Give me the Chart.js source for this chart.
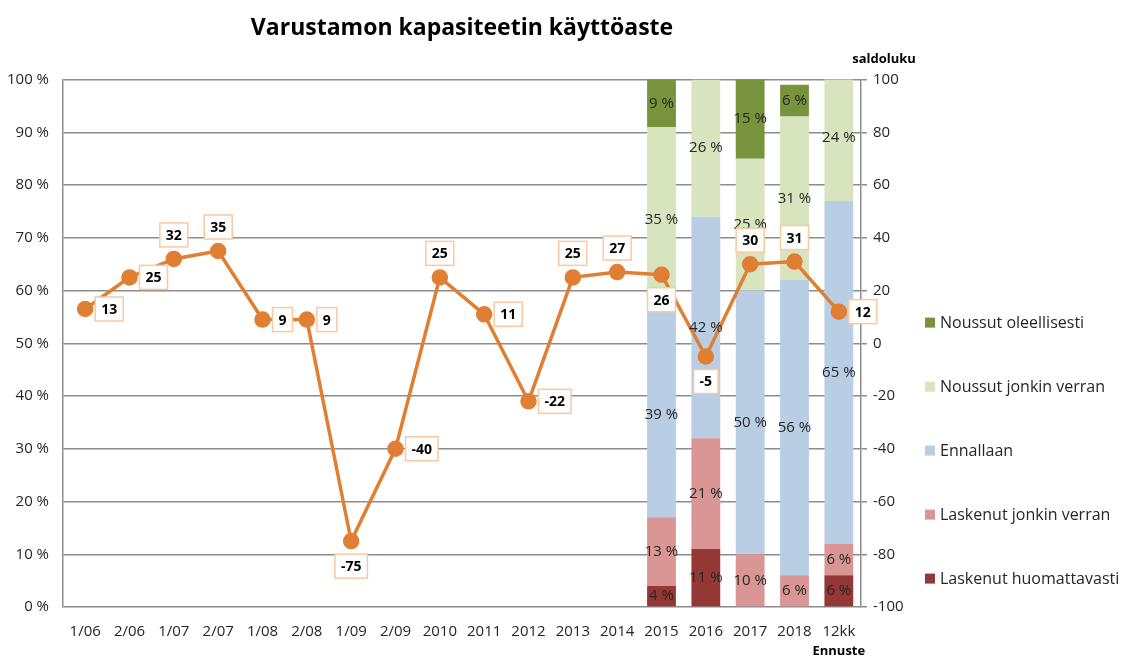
<!DOCTYPE html>
<html>
<head>
<meta charset="utf-8">
<script src="https://cdn.jsdelivr.net/npm/chart.js@4/dist/chart.umd.min.js"></script>
<style>
  html, body { margin: 0; padding: 0; background: #fff; }
  #wrap { width: 1128px; height: 657px; }
</style>
</head>
<body>
<div id="wrap"><canvas id="chart" width="1128" height="657"></canvas></div>
<script>
// ── Data ──────────────────────────────────────────────────────────
const categories = ['1/06', '2/06', '1/07', '2/07', '1/08', '2/08', '1/09', '2/09',
                    '2010', '2011', '2012', '2013', '2014', '2015', '2016', '2017', '2018', '12kk'];

// saldoluku (right axis)
const saldoluku = [13, 25, 32, 35, 9, 9, -75, -40, 25, 11, -22, 25, 27, 26, -5, 30, 31, 12];

// stacked shares (%), only from 2015 onwards
const E = null;
const laskenutHuomattavasti = [E, E, E, E, E, E, E, E, E, E, E, E, E, 4, 11, 0, 0, 6];
const laskenutJonkinVerran  = [E, E, E, E, E, E, E, E, E, E, E, E, E, 13, 21, 10, 6, 6];
const ennallaan             = [E, E, E, E, E, E, E, E, E, E, E, E, E, 39, 42, 50, 56, 65];
const noussutJonkinVerran   = [E, E, E, E, E, E, E, E, E, E, E, E, E, 35, 26, 25, 31, 24];
const noussutOleellisesti   = [E, E, E, E, E, E, E, E, E, E, E, E, E, 9, 0, 15, 6, 0];

const leftTicks  = [0, 10, 20, 30, 40, 50, 60, 70, 80, 90, 100];
const rightTicks = [-100, -80, -60, -40, -20, 0, 20, 40, 60, 80, 100];

// ── Styling ───────────────────────────────────────────────────────
const FONT = "'Open Sans', 'Noto Sans', sans-serif";
const ORANGE = '#E07F34';
const GRID = '#8c8c8c';
const TEXT = '#262626';

// where each line label sits relative to its point
const labelSides = ['r', 'r', 'u', 'u', 'r', 'r', 'd', 'r', 'u', 'r', 'r', 'u', 'u', 'd', 'd', 'u', 'u', 'r'];

function barSet(label, data, color) {
    return {
        type: 'bar',
        label,
        data,
        backgroundColor: color,
        borderWidth: 0,
        yAxisID: 'y',
        stack: 'share',
        order: 2,
        barPercentage: 0.65,
        categoryPercentage: 1.0
    };
}

// ── Labels + legend plugin ────────────────────────────────────────
const labelPlugin = {
    id: 'valueLabels',
    afterDatasetsDraw(chart) {
        const ctx = chart.ctx;
        const area = chart.chartArea;
        ctx.save();

        // bar segment labels
        chart.data.datasets.forEach((ds, di) => {
            if (ds.type !== 'bar') return;
            const meta = chart.getDatasetMeta(di);
            meta.data.forEach((bar, i) => {
                const v = ds.data[i];
                if (!v) return;
                const cy = (bar.y + bar.base) / 2;
                ctx.font = `15px ${FONT}`;
                ctx.fillStyle = TEXT;
                ctx.textAlign = 'center';
                ctx.textBaseline = 'middle';
                ctx.fillText(v + ' %', bar.x, cy);
            });
        });

        // line labels in boxes
        const li = chart.data.datasets.findIndex(d => d.type === 'line');
        const meta = chart.getDatasetMeta(li);
        ctx.font = `bold 14px ${FONT}`;
        meta.data.forEach((pt, i) => {
            const text = String(saldoluku[i]);
            const w = ctx.measureText(text).width + 12;
            const h = 24;
            let bx, by;
            const side = labelSides[i];
            if (side === 'r') { bx = pt.x + 10; by = pt.y - h / 2; }
            else if (side === 'u') { bx = pt.x - w / 2; by = pt.y - 12 - h; }
            else { bx = pt.x - w / 2; by = pt.y + 13; }
            ctx.fillStyle = '#ffffff';
            ctx.fillRect(bx, by, w, h);
            ctx.strokeStyle = '#F9C9A0';
            ctx.lineWidth = 1.5;
            ctx.strokeRect(bx, by, w, h);
            ctx.fillStyle = '#000';
            ctx.textAlign = 'center';
            ctx.textBaseline = 'middle';
            ctx.fillText(text, bx + w / 2, by + h / 2 + 1);
        });

        // axis caption and forecast note
        const x = chart.scales.x;
        ctx.font = `bold 13px ${FONT}`;
        ctx.fillStyle = '#000';
        ctx.textAlign = 'center';
        ctx.textBaseline = 'middle';
        ctx.fillText('saldoluku', area.right + 23, area.top - 20);
        ctx.fillText('Ennuste', x.getPixelForValue(categories.length - 1), area.bottom + 44);

        // legend, top item = top of stack
        const bars = chart.data.datasets.filter(d => d.type === 'bar').reverse();
        ctx.font = `16px ${FONT}`;
        ctx.textAlign = 'left';
        bars.forEach((ds, k) => {
            const cy = area.top + 243 + k * 64;
            ctx.fillStyle = ds.backgroundColor;
            ctx.fillRect(area.right + 64, cy - 5, 10, 10);
            ctx.fillStyle = TEXT;
            ctx.fillText(ds.label, area.right + 79, cy + 1);
        });

        ctx.restore();
    }
};

// ── Chart ─────────────────────────────────────────────────────────
const ctx = document.getElementById('chart').getContext('2d');

new Chart(ctx, {
    data: {
        labels: categories,
        datasets: [
            {
                type: 'line',
                label: 'saldoluku',
                data: saldoluku,
                yAxisID: 'yR',
                borderColor: ORANGE,
                backgroundColor: ORANGE,
                borderWidth: 3.5,
                pointRadius: 6.5,
                pointHoverRadius: 6.5,
                tension: 0,
                order: 0
            },
            barSet('Laskenut huomattavasti', laskenutHuomattavasti, '#953735'),
            barSet('Laskenut jonkin verran', laskenutJonkinVerran, '#D99694'),
            barSet('Ennallaan', ennallaan, '#B9CDE5'),
            barSet('Noussut jonkin verran', noussutJonkinVerran, '#D7E4BD'),
            barSet('Noussut oleellisesti', noussutOleellisesti, '#77933C')
        ]
    },
    options: {
        responsive: false,
        animation: false,
        layout: { padding: { bottom: 8, right: 207 } },
        plugins: {
            title: {
                display: true,
                text: 'Varustamon kapasiteetin käyttöaste',
                fullSize: false,
                color: '#000',
                font: { family: FONT, size: 23, weight: 'bold' },
                padding: { top: 15, bottom: 37 }
            },
            legend: { display: false },
            tooltip: { enabled: false }
        },
        scales: {
            x: {
                grid: { display: false },
                border: { display: false },
                ticks: { color: TEXT, font: { family: FONT, size: 15 }, maxRotation: 0, autoSkip: false, padding: 8 }
            },
            y: {
                position: 'left',
                stacked: true,
                min: 0,
                max: 100,
                afterBuildTicks: s => { s.ticks = leftTicks.map(v => ({ value: v })); },
                afterFit: s => { s.width = 63; },
                grid: { color: GRID, lineWidth: 1.5, drawTicks: false },
                border: { color: GRID, width: 1.5 },
                ticks: {
                    color: TEXT,
                    font: { family: FONT, size: 15 },
                    padding: 14,
                    callback: v => v + ' %'
                }
            },
            yR: {
                position: 'right',
                min: -100,
                max: 100,
                afterBuildTicks: s => { s.ticks = rightTicks.map(v => ({ value: v })); },
                afterFit: s => { s.width = 60; },
                grid: { drawOnChartArea: false, color: GRID, lineWidth: 1.5, tickLength: 6 },
                border: { color: GRID, width: 1.5 },
                ticks: {
                    color: TEXT,
                    font: { family: FONT, size: 15 },
                    padding: 6
                }
            }
        }
    },
    plugins: [labelPlugin]
});
</script>
</body>
</html>
